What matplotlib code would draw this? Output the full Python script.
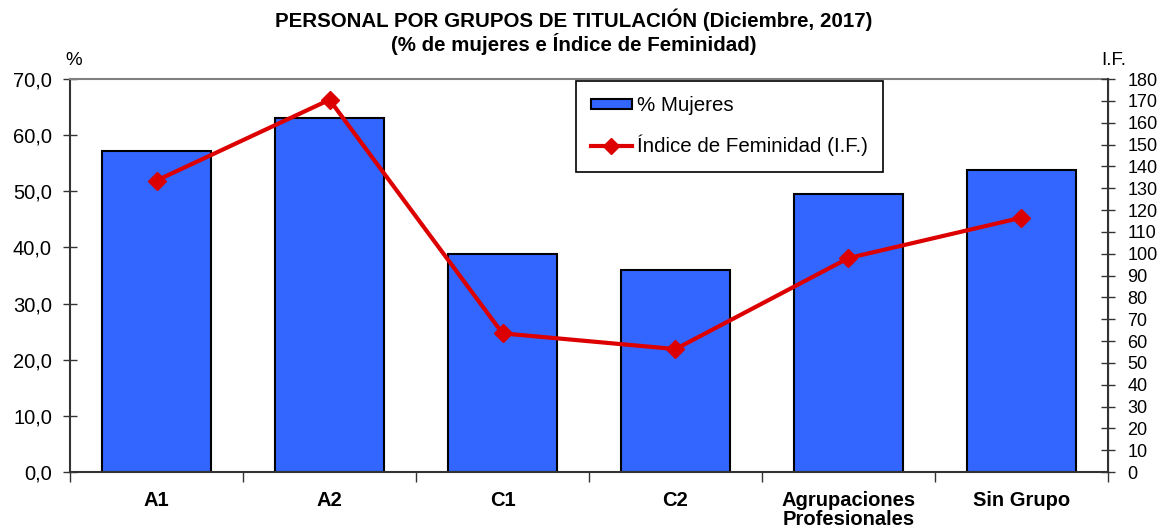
import numpy as np
import matplotlib.pyplot as plt
from matplotlib.patches import Patch
from matplotlib.lines import Line2D

# datos
grupos = ['A1', 'A2', 'C1', 'C2', 'Agrupaciones\nProfesionales', 'Sin Grupo']
pct_mujeres = [57.2, 63.1, 38.8, 36.0, 49.5, 53.8]
indice_fem = [133.5, 170.5, 63.5, 56.3, 98.0, 116.5]

azul = '#3366FF'
rojo = '#DD0000'

plt.rcParams['font.family'] = ['Liberation Sans', 'DejaVu Sans']

fig = plt.figure(figsize=(11.63, 5.31), dpi=100)
ax = fig.add_axes([0.0602, 0.1111, 0.8925, 0.7401])
x = np.arange(len(grupos))

ax.bar(x, pct_mujeres, width=0.625, color=azul, edgecolor='black', linewidth=1.5, zorder=2)
ax.set_xlim(-0.5, len(grupos) - 0.5)
ax.set_ylim(0, 70)
ax.set_yticks(np.arange(0, 71, 10))
ax.set_yticklabels([f'{v:.1f}'.replace('.', ',') for v in np.arange(0, 71, 10)], fontsize=14.5)
ax.tick_params(axis='y', direction='inout', length=10, width=1, color='#333333', pad=8)

ax.set_xticks(x)
ax.set_xticklabels(grupos, fontsize=14.5, fontweight='bold', linespacing=1.0)
ax.tick_params(axis='x', length=0, pad=14)
ax.set_xticks(np.arange(-0.5, len(grupos), 1), minor=True)
ax.tick_params(axis='x', which='minor', direction='out', length=7, width=1, color='#333333')

ax.spines['top'].set_color('#808080')
ax.spines['top'].set_linewidth(1.5)
ax.spines['left'].set_color('#333333')
ax.spines['left'].set_linewidth(1.5)
ax.spines['bottom'].set_color('#333333')
ax.spines['bottom'].set_linewidth(1.5)

ax2 = ax.twinx()
ax2.plot(x, indice_fem, color=rojo, linewidth=3, marker='D', markersize=9, zorder=3)
ax2.set_ylim(0, 180)
ax2.set_yticks(np.arange(0, 181, 10))
ax2.tick_params(axis='y', direction='inout', length=10, width=1, color='#333333', labelsize=13, pad=9)
ax2.spines['right'].set_color('#333333')
ax2.spines['right'].set_linewidth(1.5)
ax2.spines['top'].set_visible(False)
ax2.spines['left'].set_visible(False)
ax2.spines['bottom'].set_visible(False)

fig.text(0.063, 0.887, '%', fontsize=13.5, ha='center', va='center')
fig.text(0.958, 0.887, 'I.F.', fontsize=13.5, ha='center', va='center')

fig.text(0.4935, 0.963, 'PERSONAL POR GRUPOS DE TITULACIÓN (Diciembre, 2017)',
         fontsize=14.8, fontweight='bold', ha='center', va='center')
fig.text(0.4935, 0.917, '(% de mujeres e Índice de Feminidad)',
         fontsize=14.8, fontweight='bold', ha='center', va='center')

handles = [Patch(facecolor=azul, edgecolor='black', linewidth=1.5),
           Line2D([0], [0], color=rojo, linewidth=3, marker='D', markersize=8)]
leg = ax2.legend(handles, ['% Mujeres', 'Índice de Feminidad (I.F.)'],
                 loc='upper left', bbox_to_anchor=(0.4875, 0.995), fontsize=14.8,
                 frameon=True, fancybox=False, framealpha=1, edgecolor='black',
                 handlelength=1.95, handleheight=0.4, handletextpad=0.25,
                 labelspacing=0.95, borderpad=0.75, borderaxespad=0)
leg.get_frame().set_linewidth(1.2)

fig.savefig('out.png', dpi=100)
